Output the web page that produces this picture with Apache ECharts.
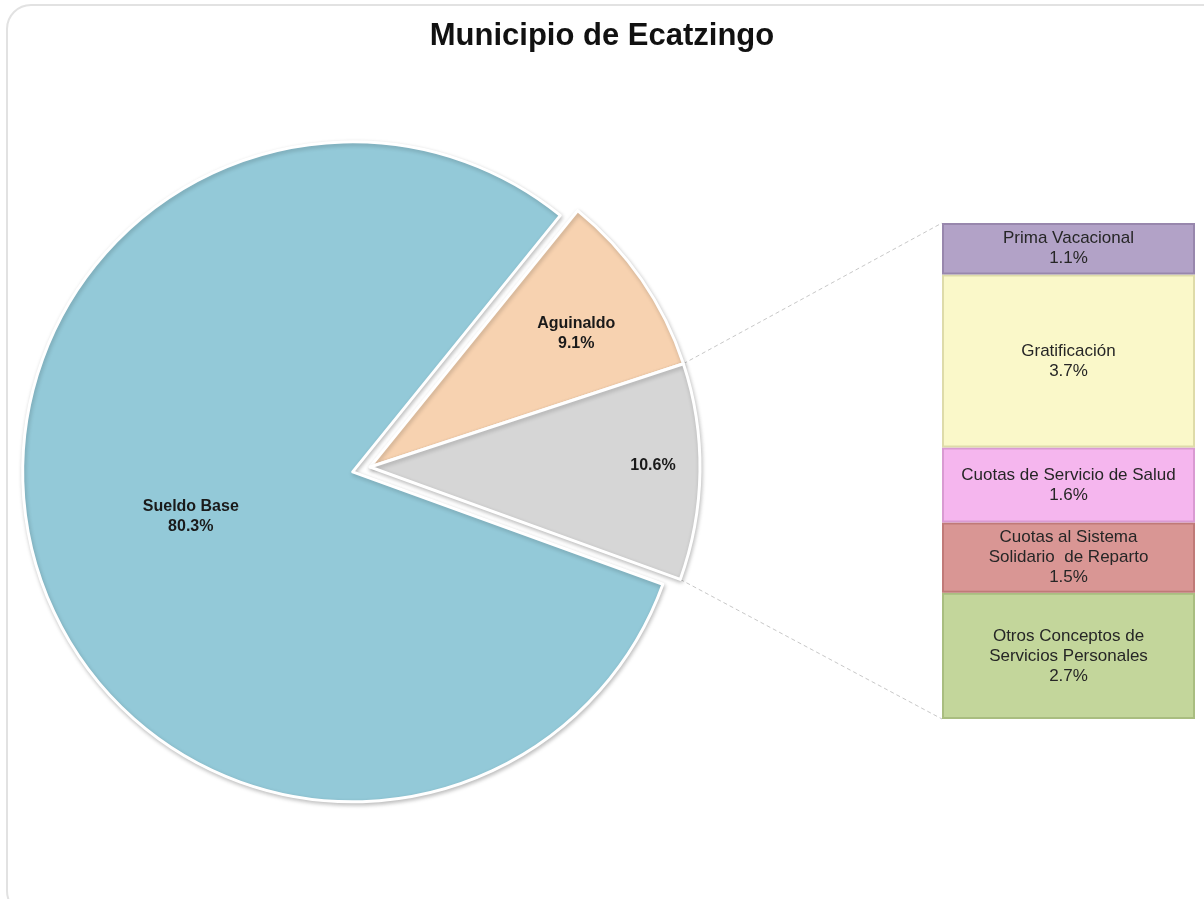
<!DOCTYPE html>
<html>
<head>
<meta charset="utf-8">
<title>Municipio de Ecatzingo</title>
<script src="https://cdn.jsdelivr.net/npm/echarts@6/dist/echarts.min.js"></script>
<style>
  html, body { margin: 0; padding: 0; background: #fff; }
  #chart { width: 1204px; height: 899px; }
</style>
</head>
<body>
<div id="chart"></div>
<script>
// pie slices
var pieNames = ['Aguinaldo', 'Otros', 'Sueldo Base']
var pieValues = [9.1, 10.6, 80.3]

// desglose de "Otros" (bar from bottom to top)
var barNames = [
  'Otros Conceptos de\nServicios Personales',
  'Cuotas al Sistema\nSolidario  de Reparto',
  'Cuotas de Servicio de Salud',
  'Gratificación',
  'Prima Vacacional'
]
var barValues = [2.7, 1.5, 1.6, 3.7, 1.1]

var pieColors = ['#F7D2B0', '#D6D6D6', '#93C9D8']
var barColors = ['#C3D69B', '#D99694', '#F5B6EE', '#FAF8C9', '#B2A2C7']
var barBorders = ['#A9BD80', '#C07A78', '#D99AD2', '#DEDBA9', '#9887AD']

var pieCenter = [370, 467]
var pieRadius = 330
var startAngle = 51
var grid = { left: 942, top: 223, width: 253, height: 496 }

var barTotal = barValues.reduce(function (a, b) { return a + b }, 0)
var pieTotal = pieValues.reduce(function (a, b) { return a + b }, 0)

var chart = echarts.init(document.getElementById('chart'))

var labelOffsets = [[68, -38], [115, -4], [2, 2]]

var pieData = pieValues.map(function (v, i) {
  return {
    name: pieNames[i],
    value: v,
    selected: i === 2,
    itemStyle: { color: pieColors[i] },
    label: { offset: labelOffsets[i] }
  }
})

var barSeries = barValues.map(function (v, i) {
  return {
    name: barNames[i],
    type: 'bar',
    stack: 'otros',
    barWidth: '100%',
    data: [v],
    itemStyle: {
      color: barColors[i],
      borderColor: barBorders[i],
      borderWidth: 2
    },
    label: {
      show: true,
      position: 'inside',
      color: '#262626',
      fontFamily: 'Liberation Sans, Arial',
      fontSize: 17,
      lineHeight: 20,
      formatter: function (p) {
        return p.seriesName + '\n' + p.value.toFixed(1) + '%'
      }
    }
  }
})

chart.setOption({
  animation: false,
  backgroundColor: '#fff',
  title: {
    text: 'Municipio de Ecatzingo',
    left: 'center',
    top: 16,
    textStyle: {
      fontFamily: 'Liberation Sans, Arial',
      fontSize: 31,
      fontWeight: 'bold',
      color: '#111'
    }
  },
  grid: grid,
  xAxis: { type: 'category', data: ['Otros'], show: false },
  yAxis: { type: 'value', min: 0, max: barTotal, show: false },
  series: [{
    type: 'pie',
    center: pieCenter,
    radius: pieRadius,
    startAngle: startAngle,
    clockwise: true,
    selectedMode: 'single',
    selectedOffset: 18,
    itemStyle: {
      borderColor: '#fff',
      borderWidth: 3,
      shadowBlur: 4,
      shadowColor: 'rgba(0,0,0,0.22)',
      shadowOffsetX: 1,
      shadowOffsetY: 2
    },
    label: {
      show: true,
      position: 'inside',
      color: '#1a1a1a',
      fontFamily: 'Liberation Sans, Arial',
      fontSize: 16,
      fontWeight: 'bold',
      lineHeight: 20,
      formatter: function (p) {
        var pct = p.value.toFixed(1) + '%'
        return p.dataIndex === 1 ? pct : p.name + '\n' + pct
      }
    },
    labelLine: { show: false },
    emphasis: { disabled: true },
    data: pieData
  }].concat(barSeries)
})

// líneas de conexión entre la rebanada "Otros" y la barra
var toRad = Math.PI / 180
var a1 = startAngle - pieValues[0] / pieTotal * 360
var a2 = a1 - pieValues[1] / pieTotal * 360
function piePoint(a) {
  return [pieCenter[0] + pieRadius * Math.cos(a * toRad), pieCenter[1] - pieRadius * Math.sin(a * toRad)]
}
var p1 = piePoint(a1)
var p2 = piePoint(a2)
var yTop = chart.convertToPixel({ yAxisIndex: 0 }, barTotal)
var yBottom = chart.convertToPixel({ yAxisIndex: 0 }, 0)
var lineStyle = { stroke: '#c8c8c8', lineWidth: 1, lineDash: [4, 3] }

chart.setOption({
  graphic: [
    {
      type: 'rect',
      shape: { x: 7, y: 5, width: 1230, height: 910, r: 24 },
      style: { fill: 'none', stroke: '#e2e2e2', lineWidth: 2 },
      silent: true,
      z: -1
    },
    {
      type: 'line',
      shape: { x1: p1[0], y1: p1[1], x2: grid.left, y2: yTop },
      style: lineStyle,
      silent: true
    },
    {
      type: 'line',
      shape: { x1: p2[0], y1: p2[1], x2: grid.left, y2: yBottom },
      style: lineStyle,
      silent: true
    }
  ]
})
</script>
</body>
</html>
